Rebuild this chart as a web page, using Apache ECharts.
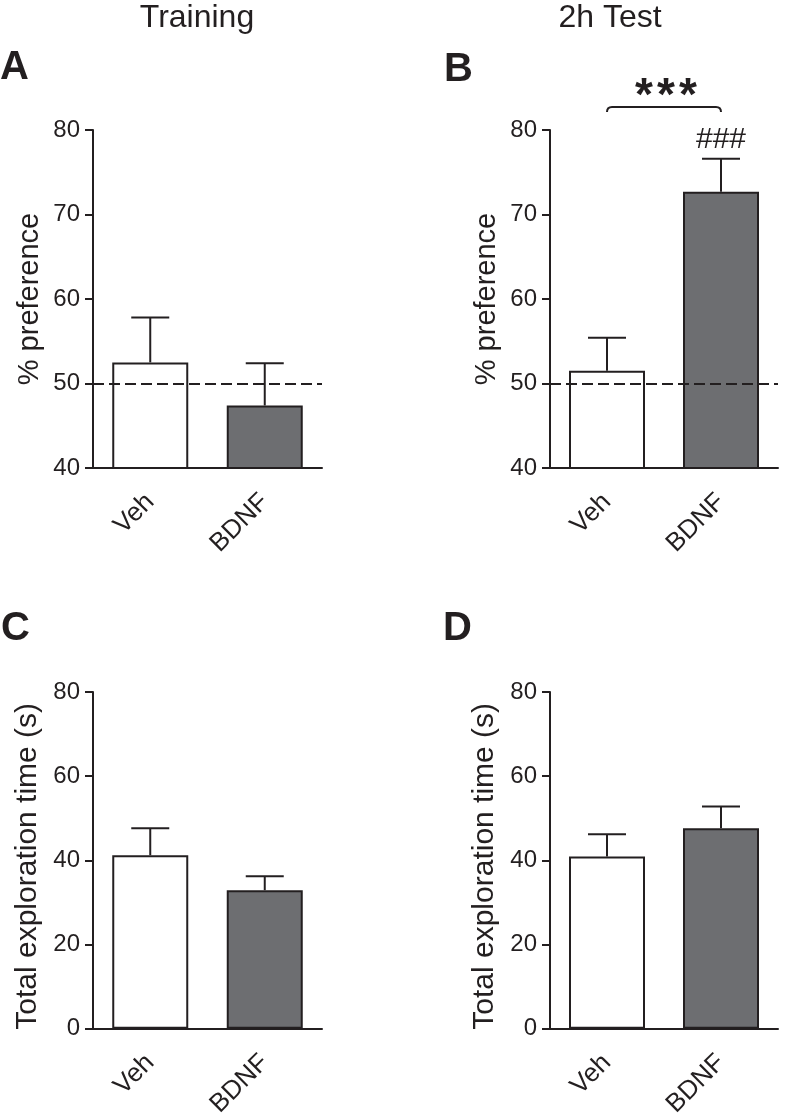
<!DOCTYPE html>
<html>
<head>
<meta charset="utf-8">
<script src="https://cdn.jsdelivr.net/npm/echarts@6/dist/echarts.min.js"></script>
<style>
html,body{margin:0;padding:0;background:#fff;}
#chart{width:785px;height:1120px;}
</style>
</head>
<body>
<div id="chart"></div>
<script>
// ---- data ----
const categories = ['Veh', 'BDNF'];
const trainPrefMean = [52.5, 47.4];
const trainPrefSem  = [5.3, 5.0];
const testPrefMean  = [51.5, 72.7];
const testPrefSem   = [3.9, 3.9];
const trainExplMean = [41.2, 32.9];
const trainExplSem  = [6.4, 3.3];
const testExplMean  = [40.9, 47.6];
const testExplSem   = [5.3, 5.2];
const chanceLevel = 50;
const prefAxis = {min: 40, max: 80, interval: 10};
const explAxis = {min: 0, max: 80, interval: 20};
const testPrefMarks = ['', '###'];
const comparisonPair = [0, 1];
const comparisonText = '***';
const columnTitles = ['Training', '2h Test'];
const panelLetters = ['A', 'B', 'C', 'D'];

// ---- style ----
const ink = '#231f20';
const fill = '#6d6e71';
const ff = '"Liberation Sans", Arial, Helvetica, sans-serif';

const grids = [
  {left: 93, top: 130, width: 229, height: 338},
  {left: 550, top: 130, width: 228, height: 338},
  {left: 93, top: 692, width: 229, height: 338},
  {left: 550, top: 692, width: 228, height: 338}
];

function makeX(gi) {
  return {
    type: 'category', gridIndex: gi, data: categories,
    axisLine: {lineStyle: {color: ink, width: 2}},
    axisTick: {alignWithLabel: true, length: 8, lineStyle: {color: ink, width: 2}},
    axisLabel: {rotate: 45, fontSize: 26, color: ink, margin: 30, fontFamily: ff}
  };
}
function makeY(gi, ax, name, gap, nameSize, namePad) {
  return {
    type: 'value', gridIndex: gi, min: ax.min, max: ax.max, interval: ax.interval,
    name: name, nameLocation: 'middle', nameGap: gap,
    nameTextStyle: {fontSize: nameSize, color: ink, fontFamily: ff, padding: namePad},
    axisLine: {show: true, lineStyle: {color: ink, width: 2}},
    axisTick: {show: true, length: 8, lineStyle: {color: ink, width: 2}},
    splitLine: {show: false},
    axisLabel: {fontSize: 24, color: ink, margin: 13, fontFamily: ff}
  };
}
function barSeries(gi, mean, withChance) {
  const s = {
    type: 'bar', xAxisIndex: gi, yAxisIndex: gi, barWidth: 76, z: 2,
    data: mean.map((v, i) => ({value: v, itemStyle: {color: i === 0 ? '#ffffff' : fill}})),
    itemStyle: {borderColor: ink, borderWidth: 2},
    silent: true
  };
  if (withChance) {
    s.markLine = {
      silent: true, symbol: 'none', label: {show: false},
      lineStyle: {type: [11, 5], color: ink, width: 2},
      data: [{yAxis: chanceLevel}]
    };
  }
  return s;
}
function errSeries(gi, mean, sem) {
  return {
    type: 'custom', xAxisIndex: gi, yAxisIndex: gi, z: 1, silent: true,
    data: mean.map((m, i) => [i, m, sem[i]]),
    encode: {x: 0, y: 1},
    renderItem: function (params, api) {
      const x = api.value(0), m = api.value(1), e = api.value(2);
      const b = api.coord([x, m]);
      const t = api.coord([x, m + e]);
      const half = 19;
      const st = {stroke: ink, lineWidth: 2, fill: null};
      return {type: 'group', children: [
        {type: 'line', shape: {x1: b[0], y1: b[1], x2: t[0], y2: t[1]}, style: st},
        {type: 'line', shape: {x1: t[0] - half, y1: t[1], x2: t[0] + half, y2: t[1]}, style: st}
      ]};
    }
  };
}

const series = [
  barSeries(0, trainPrefMean, true), errSeries(0, trainPrefMean, trainPrefSem),
  barSeries(1, testPrefMean, true), errSeries(1, testPrefMean, testPrefSem),
  barSeries(2, trainExplMean, false), errSeries(2, trainExplMean, trainExplSem),
  barSeries(3, testExplMean, false), errSeries(3, testExplMean, testExplSem),
  // ### marks above error bars in panel B
  {
    type: 'custom', xAxisIndex: 1, yAxisIndex: 1, z: 3, silent: true, clip: false,
    data: testPrefMean.map((m, i) => [i, m + testPrefSem[i], i]),
    encode: {x: 0, y: 1},
    renderItem: function (params, api) {
      const i = api.value(2);
      const p = api.coord([api.value(0), api.value(1)]);
      if (!testPrefMarks[i]) return null;
      return {type: 'text', style: {
        text: testPrefMarks[i], x: p[0], y: p[1] - 4,
        textAlign: 'center', textVerticalAlign: 'bottom',
        font: '30px ' + ff, fill: ink
      }};
    }
  },
  // significance bracket in panel B
  {
    type: 'custom', xAxisIndex: 1, yAxisIndex: 1, z: 3, silent: true, clip: false,
    data: [[comparisonPair[0], comparisonPair[1]]],
    renderItem: function (params, api) {
      const p0 = api.coord([api.value(0), prefAxis.max]);
      const p1 = api.coord([api.value(1), prefAxis.max]);
      const y = p0[1] - 23;
      const r = 5;
      const x0 = p0[0], x1 = p1[0];
      const cx = (x0 + x1) / 2 + 2;
      const chars = comparisonText.split('');
      const step = 22;
      const children = [
        {type: 'path', shape: {
          pathData: 'M' + x0 + ' ' + (y + r) + ' Q' + x0 + ' ' + y + ' ' + (x0 + r) + ' ' + y +
            ' L' + (x1 - r) + ' ' + y + ' Q' + x1 + ' ' + y + ' ' + x1 + ' ' + (y + r)
        }, style: {stroke: ink, lineWidth: 2, fill: null}}
      ];
      chars.forEach(function (c, k) {
        children.push({type: 'text', style: {
          text: c, x: cx + (k - (chars.length - 1) / 2) * step, y: y + 13,
          textAlign: 'center', textVerticalAlign: 'bottom',
          font: 'bold 46px ' + ff, fill: ink
        }});
      });
      return {type: 'group', children: children};
    }
  }
];

const graphic = [
  {type: 'text', style: {text: columnTitles[0], x: 197, y: 18, textAlign: 'center', textVerticalAlign: 'middle', font: '32px ' + ff, fill: ink}},
  {type: 'text', style: {text: columnTitles[1], x: 610, y: 18, textAlign: 'center', textVerticalAlign: 'middle', font: '32px ' + ff, fill: ink}},
  {type: 'text', style: {text: panelLetters[0], x: 0, y: 68, textAlign: 'left', textVerticalAlign: 'middle', font: 'bold 40px ' + ff, fill: ink}},
  {type: 'text', style: {text: panelLetters[1], x: 444, y: 70, textAlign: 'left', textVerticalAlign: 'middle', font: 'bold 40px ' + ff, fill: ink}},
  {type: 'text', style: {text: panelLetters[2], x: 1, y: 629, textAlign: 'left', textVerticalAlign: 'middle', font: 'bold 40px ' + ff, fill: ink}},
  {type: 'text', style: {text: panelLetters[3], x: 443, y: 629, textAlign: 'left', textVerticalAlign: 'middle', font: 'bold 40px ' + ff, fill: ink}}
];

const chart = echarts.init(document.getElementById('chart'), null, {renderer: 'canvas'});
chart.setOption({
  backgroundColor: '#ffffff',
  animation: false,
  grid: grids,
  xAxis: [makeX(0), makeX(1), makeX(2), makeX(3)],
  yAxis: [
    makeY(0, prefAxis, '% preference', 49, 29, 0),
    makeY(1, prefAxis, '% preference', 49, 29, 0),
    makeY(2, explAxis, 'Total exploration time (s)', 50, 30, [0, 12, 0, 0]),
    makeY(3, explAxis, 'Total exploration time (s)', 50, 30, [0, 12, 0, 0])
  ],
  series: series,
  graphic: graphic
});
</script>
</body>
</html>
